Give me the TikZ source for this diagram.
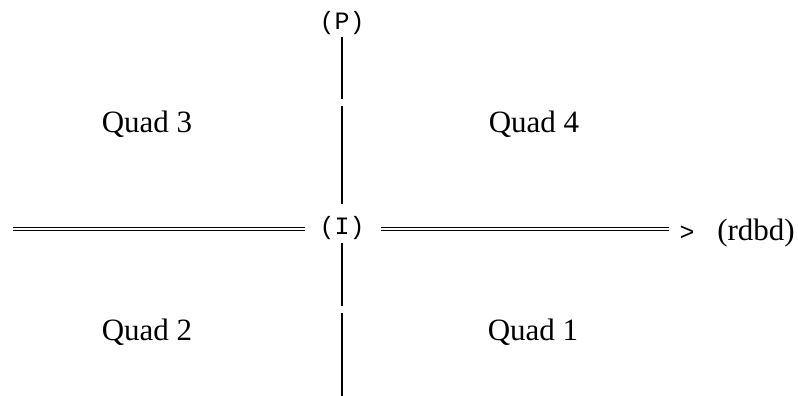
\documentclass[tikz,border=0pt]{standalone}
\usepackage{fontspec}
\setmainfont{Liberation Serif}
\newfontfamily\courfont{Liberation Mono}
\begin{document}
\begin{tikzpicture}[x=1pt,y=-1pt,
  quad/.style={font=\fontsize{31}{36}\selectfont, anchor=base, inner sep=0pt},
  mono/.style={font=\courfont\fontsize{25}{28}\selectfont, inner sep=0pt},
  vline/.style={line width=1.8pt},
  dbl/.style={double, double distance=1.8pt, line width=1.1pt}]
\useasboundingbox (0,0) rectangle (798,396);
% nodes
\node[mono] (P) at (342,23) {(P)};
\node[mono] (I) at (342,228) {(I)};
\node[mono, anchor=base] (gt) at (687,240) {>};
\node[quad] (rdbd) at (756,240) {(rdbd)};
\coordinate (L) at (13,229);
\coordinate (B) at (342,398);
\node[quad] (q3) at (147,132) {Quad 3};
\node[quad] (q4) at (534,132) {Quad 4};
\node[quad] (q2) at (147,340) {Quad 2};
\node[quad] (q1) at (533,340) {Quad 1};
% vertical axis
\draw[vline, dash pattern=on 62pt off 7pt on 300pt, shorten <=14pt, shorten >=24pt] (P.center) -- (I.center);
\draw[vline, dash pattern=on 63pt off 7pt on 300pt, shorten <=15pt] (I.center) -- (B);
% horizontal axis
\draw[dbl, shorten >=37pt] (L) -- (I.center |- L);
\draw[dbl, shorten <=39pt, shorten >=18pt] (I.center |- L) -- (gt.center |- L);
\end{tikzpicture}
\end{document}
